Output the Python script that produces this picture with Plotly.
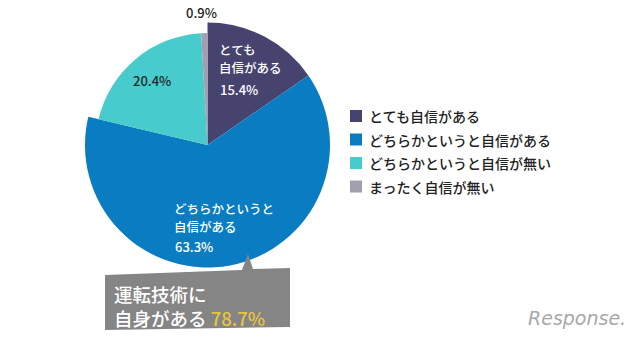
import plotly.graph_objects as go

W, H = 640, 338

categories = ["とても自信がある", "どちらかというと自信がある", "どちらかというと自信が無い", "まったく自信が無い"]
values = [15.4, 63.3, 20.4, 0.9]
colors = ["#47436F", "#0A7DC2", "#47CBCC", "#A19FB0"]
TRANSPARENT = "rgba(0,0,0,0)"
JP = "Noto Sans CJK JP"


def px_x(x):
    return x / W


def px_y(y):
    return 1 - y / H


def domain(cx, cy, r):
    return dict(x=[px_x(cx - r), px_x(cx + r)], y=[px_y(cy + r), px_y(cy - r)])


CX, CY = 207.5, 145
R_BIG, R_SMALL = 122.5, 112

fig = go.Figure()
# larger radius: the two "confident" slices
fig.add_trace(go.Pie(
    labels=categories, values=values, sort=False, direction="clockwise", rotation=0,
    marker=dict(colors=[colors[0], colors[1], TRANSPARENT, TRANSPARENT], line=dict(width=0)),
    textinfo="none", hoverinfo="skip", showlegend=False,
    domain=domain(CX, CY, R_BIG),
))
# smaller radius: the two "not confident" slices
fig.add_trace(go.Pie(
    labels=categories, values=values, sort=False, direction="clockwise", rotation=0,
    marker=dict(colors=[TRANSPARENT, TRANSPARENT, colors[2], colors[3]], line=dict(width=0)),
    textinfo="none", hoverinfo="skip", showlegend=False,
    domain=domain(CX, CY, R_SMALL),
))

annotations = []
shapes = []


def ann(x, y, text, size=13, color="#222", xanchor="left", yanchor="middle", family=JP, weight=500):
    annotations.append(dict(
        x=px_x(x), y=px_y(y), xref="paper", yref="paper", text=text, showarrow=False,
        xanchor=xanchor, yanchor=yanchor, align="left",
        font=dict(family=family, size=size, color=color, weight=weight),
    ))


def pct(v):
    return f"{v:.1f}%"


# slice labels
ann(201, 13, pct(values[3]), size=13, color="#222", xanchor="center")
ann(217, 50, "とても", size=12.5, color="white")
ann(217, 67, "自信がある", size=12.5, color="white")
ann(218, 89, pct(values[0]), size=13, color="white")
ann(152, 80, pct(values[2]), size=13, color="#1e2a2a", xanchor="center")
ann(172, 208, "どちらかというと", size=12.5, color="white")
ann(172, 226, "自信がある", size=12.5, color="white")
ann(173, 247, pct(values[1]), size=13, color="white")

# legend (drawn manually)
legend_y = [116, 139.5, 163, 186.5]
for cat, col, ly in zip(categories, colors, legend_y):
    shapes.append(dict(type="rect", xref="paper", yref="paper",
                       x0=px_x(350), x1=px_x(362), y0=px_y(ly + 6), y1=px_y(ly - 6),
                       fillcolor=col, line=dict(width=0)))
    ann(367, ly, cat, size=14, color="#222")

# callout box
pts = [(105, 275), (242, 270), (248, 254), (253, 269), (290, 268), (290, 327), (105, 330)]
path = "M " + " L ".join(f"{px_x(x)},{px_y(y)}" for x, y in pts) + " Z"
shapes.append(dict(type="path", xref="paper", yref="paper", path=path,
                   fillcolor="#858585", line=dict(width=0), layer="above"))
ann(112, 306, "運転技術に<br>自身がある <span style='color:#EAC53C'>" + pct(values[0] + values[1]) + "</span>",
    size=18.5, color="white")

# watermark
ann(628, 318, "<i>Response.</i>", size=19, color="#a8a8a8", xanchor="right", family="DejaVu Sans", weight=400)

fig.update_layout(
    width=W, height=H, margin=dict(l=0, r=0, t=0, b=0),
    paper_bgcolor="white", plot_bgcolor="white",
    showlegend=False, annotations=annotations, shapes=shapes,
)
fig.write_html("out.html")
